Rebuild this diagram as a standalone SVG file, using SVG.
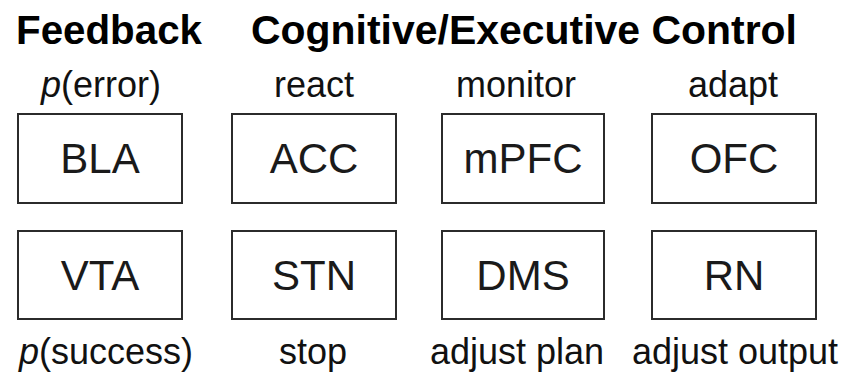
<svg xmlns="http://www.w3.org/2000/svg" width="846" height="373" viewBox="0 0 846 373">
<style>
.bg{fill:#ffffff}
.box{fill:#ffffff;stroke:#2b2b2b;stroke-width:2}
.hd{font-family:"Liberation Sans",Arial,sans-serif;font-weight:bold;font-size:40px;fill:#000;text-anchor:middle}
.lb{font-family:"Liberation Sans",Arial,sans-serif;font-size:36px;fill:#111;text-anchor:middle}
.nm{font-family:"Liberation Sans",Arial,sans-serif;font-size:42px;fill:#1a1a1a;text-anchor:middle}
</style>
<rect class="bg" x="0" y="0" width="846" height="373"/>
<g id="headers">
<text class="hd" x="109" y="44" textLength="186" lengthAdjust="spacingAndGlyphs">Feedback</text>
<text class="hd" x="524" y="44" textLength="546" lengthAdjust="spacingAndGlyphs">Cognitive/Executive Control</text>
</g>
<g id="labels-top">
<text class="lb" x="101" y="97"><tspan font-style="italic">p</tspan>(error)</text>
<text class="lb" x="314" y="97">react</text>
<text class="lb" x="516" y="97">monitor</text>
<text class="lb" x="733" y="97">adapt</text>
</g>
<g id="node-BLA"><rect class="box" x="18" y="114" width="164" height="89"/><text class="nm" x="100" y="173">BLA</text></g>
<g id="node-ACC"><rect class="box" x="232" y="114" width="164" height="89"/><text class="nm" x="314" y="173">ACC</text></g>
<g id="node-mPFC"><rect class="box" x="442" y="114" width="162" height="89"/><text class="nm" x="523" y="173">mPFC</text></g>
<g id="node-OFC"><rect class="box" x="652" y="114" width="164" height="89"/><text class="nm" x="734" y="173">OFC</text></g>
<g id="node-VTA"><rect class="box" x="18" y="231" width="164" height="88"/><text class="nm" x="100" y="290">VTA</text></g>
<g id="node-STN"><rect class="box" x="232" y="231" width="164" height="88"/><text class="nm" x="314" y="290">STN</text></g>
<g id="node-DMS"><rect class="box" x="442" y="231" width="162" height="88"/><text class="nm" x="523" y="290">DMS</text></g>
<g id="node-RN"><rect class="box" x="652" y="231" width="164" height="88"/><text class="nm" x="734" y="290">RN</text></g>
<g id="labels-bottom">
<text class="lb" x="106" y="364"><tspan font-style="italic">p</tspan>(success)</text>
<text class="lb" x="313" y="364">stop</text>
<text class="lb" x="517" y="364">adjust plan</text>
<text class="lb" x="735" y="364">adjust output</text>
</g>
<g id="connectors"></g>
</svg>
